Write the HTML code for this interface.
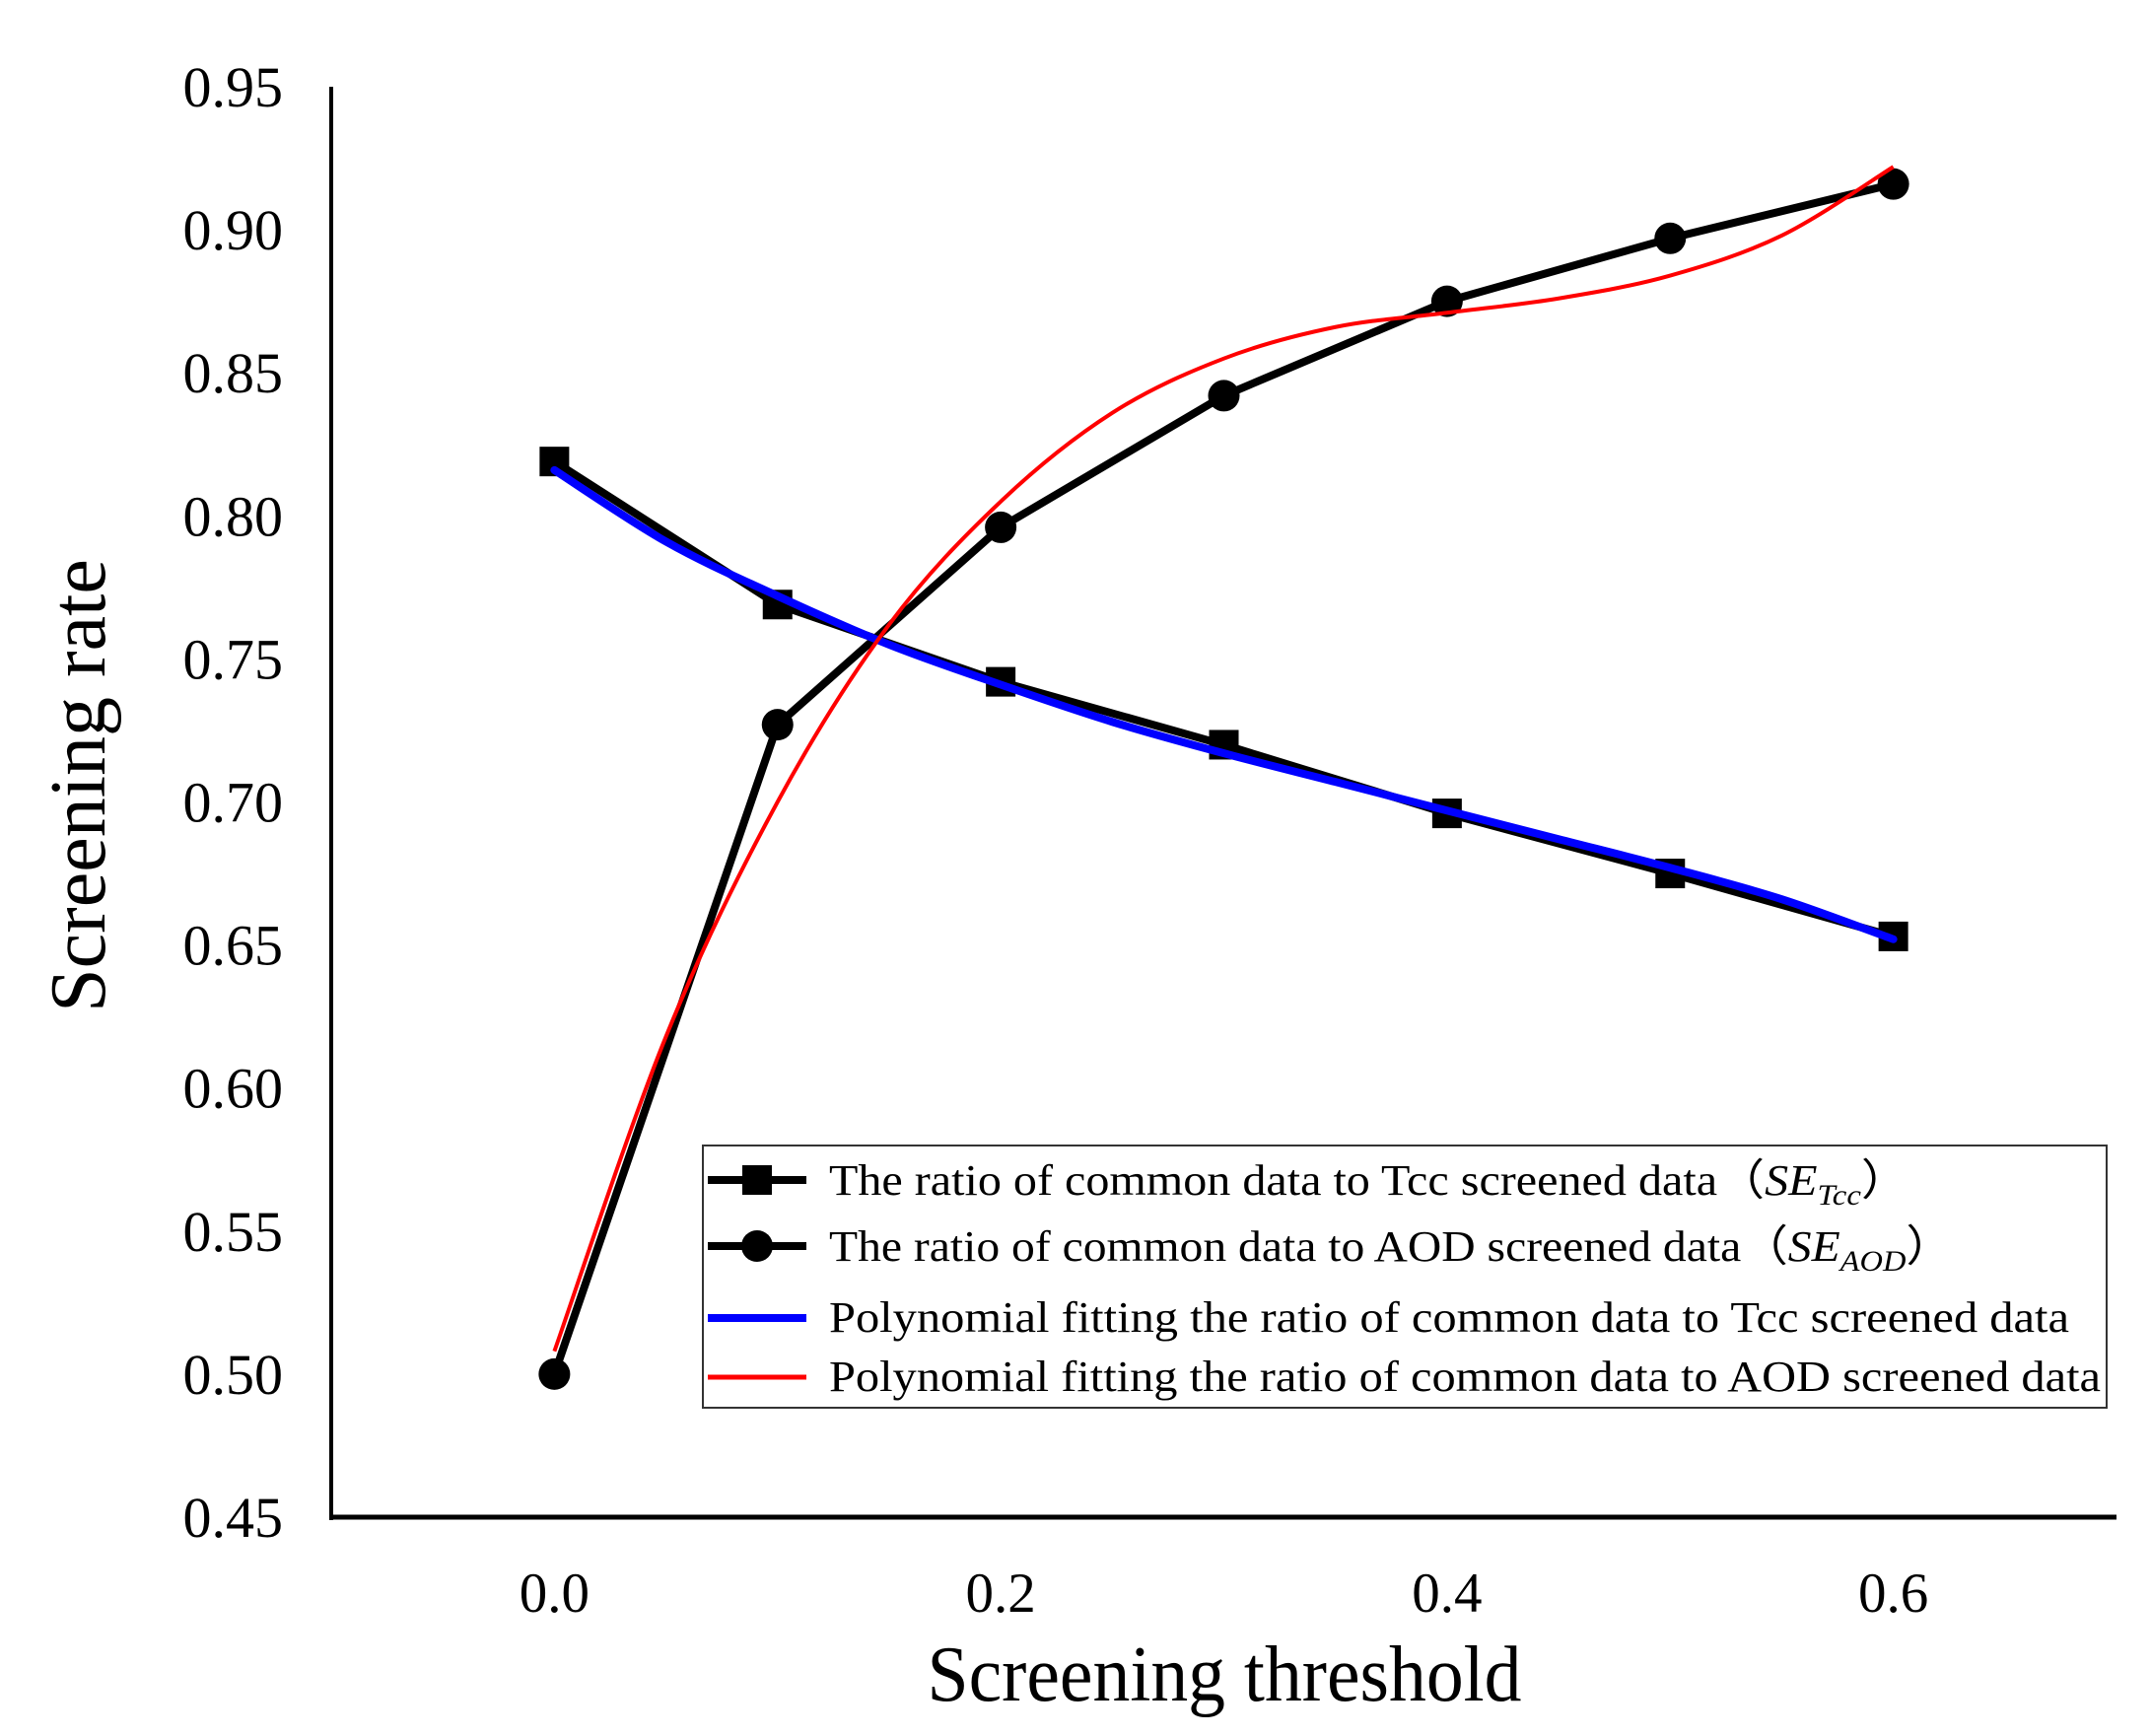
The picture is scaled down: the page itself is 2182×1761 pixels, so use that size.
<!DOCTYPE html>
<html><head><meta charset="utf-8"><style>
html,body{margin:0;padding:0;background:#fff}
svg{display:block;font-family:"Liberation Serif",serif}
</style></head><body>
<svg id="chart" width="2182" height="1761" viewBox="0 0 2182 1761" xmlns="http://www.w3.org/2000/svg">
<g id="axes"></g>
<g id="series"></g>
<g id="legend"></g>
</svg>
<script>
const thresholds = [0, 0.1, 0.2, 0.3, 0.4, 0.5, 0.6];
const tccRatio = [0.819, 0.769, 0.742, 0.720, 0.696, 0.675, 0.653];
const aodRatio = [0.500, 0.727, 0.796, 0.842, 0.875, 0.897, 0.916];
const fitX = [0, 0.05, 0.1, 0.15, 0.2, 0.25, 0.3, 0.35, 0.4, 0.45, 0.5, 0.55, 0.6];
const tccFit = [0.816, 0.791, 0.772, 0.755, 0.741, 0.728, 0.717, 0.707, 0.697, 0.687, 0.677, 0.666, 0.652];
const aodFit = [0.508, 0.618, 0.700, 0.762, 0.805, 0.836, 0.855, 0.866, 0.871, 0.876, 0.884, 0.898, 0.922];
const yTicks = ["0.45","0.50","0.55","0.60","0.65","0.70","0.75","0.80","0.85","0.90","0.95"];
const xTicks = ["0.0","0.2","0.4","0.6"];

const NS = "http://www.w3.org/2000/svg";
const X0 = 336, X1 = 2147, Y0 = 1539, Y1 = 88;
const xMin = -0.1, xMax = 0.7, yMin = 0.45, yMax = 0.95;
const sx = v => X0 + (v - xMin) / (xMax - xMin) * (X1 - X0);
const sy = v => Y0 - (v - yMin) / (yMax - yMin) * (Y0 - Y1);
function mk(tag, attrs, parent){ const e=document.createElementNS(NS,tag); for(const k in attrs) e.setAttribute(k,attrs[k]); parent.appendChild(e); return e; }

const axes = document.getElementById('axes');
let yl = mk('line',{x1:X0,y1:Y1,x2:X0,y2:Y0+3,stroke:'#000','stroke-width':4},axes);


let xl = mk('line',{x1:X0-2,y1:Y0,x2:X1,y2:Y0,stroke:'#000','stroke-width':5},axes);


yTicks.forEach(t=>{
  const e=mk('text',{x:287,y:sy(parseFloat(t))+20,'text-anchor':'end','font-size':58},axes);
  e.textContent=t;
  
  
});
xTicks.forEach(t=>{
  const e=mk('text',{x:sx(parseFloat(t)),y:1635,'text-anchor':'middle','font-size':57},axes);
  e.textContent=t;
  
  
});
let xt=mk('text',{x:1242,y:1725,'text-anchor':'middle','font-size':80,textLength:603,lengthAdjust:'spacingAndGlyphs'},axes);
xt.textContent='Screening threshold';


let yt=mk('text',{x:0,y:0,'text-anchor':'middle','font-size':80,transform:'translate(106,797) rotate(-90)'},axes);
yt.textContent='Screening rate';



const series = document.getElementById('series');
function poly(xs, ys){ return xs.map((x,i)=>sx(x).toFixed(1)+','+sy(ys[i]).toFixed(1)).join(' '); }
function smooth(xs, ys){
  const p=xs.map((x,i)=>[sx(x),sy(ys[i])]);
  let d='M'+p[0][0]+','+p[0][1];
  for(let i=0;i<p.length-1;i++){
    const a=p[Math.max(0,i-1)],b=p[i],c=p[i+1],e=p[Math.min(p.length-1,i+2)];
    d+=` C${b[0]+(c[0]-a[0])/6},${b[1]+(c[1]-a[1])/6} ${c[0]-(e[0]-b[0])/6},${c[1]-(e[1]-b[1])/6} ${c[0]},${c[1]}`;
  }
  return d;
}
let l1=mk('polyline',{points:poly(thresholds,tccRatio),fill:'none',stroke:'#000','stroke-width':8,'stroke-linejoin':'round'},series);


thresholds.forEach((x,i)=>{
  const r=mk('rect',{x:sx(x)-15,y:sy(tccRatio[i])-15,width:30,height:30,fill:'#000'},series);
  
  
});
let l2=mk('polyline',{points:poly(thresholds,aodRatio),fill:'none',stroke:'#000','stroke-width':8,'stroke-linejoin':'round'},series);


thresholds.forEach((x,i)=>{
  const c=mk('circle',{cx:sx(x),cy:sy(aodRatio[i]),r:16,fill:'#000'},series);
  
  
});
let f1=mk('path',{d:smooth(fitX,tccFit),fill:'none',stroke:'#0000ff','stroke-width':8,'stroke-linecap':'round'},series);


let f2=mk('path',{d:smooth(fitX,aodFit),fill:'none',stroke:'#ff0000','stroke-width':4},series);



const lg=document.getElementById('legend');
let box=mk('rect',{x:713,y:1162,width:1424,height:266,fill:'#fff',stroke:'#333','stroke-width':2},lg);


const rows=[1197,1264,1337,1397];
let e;
e=mk('line',{x1:718,y1:rows[0],x2:818,y2:rows[0],stroke:'#000','stroke-width':8},lg);


e=mk('rect',{x:753,y:rows[0]-15,width:30,height:30,fill:'#000'},lg);


e=mk('line',{x1:718,y1:rows[1],x2:818,y2:rows[1],stroke:'#000','stroke-width':8},lg);


e=mk('circle',{cx:768,cy:rows[1],r:16,fill:'#000'},lg);


e=mk('line',{x1:718,y1:rows[2],x2:818,y2:rows[2],stroke:'#0000ff','stroke-width':8},lg);


e=mk('line',{x1:718,y1:rows[3],x2:818,y2:rows[3],stroke:'#ff0000','stroke-width':5},lg);


</script>
<svg style="position:absolute;left:0;top:0" width="2182" height="1761">
<g font-family="Liberation Serif, serif" font-size="44">
<text x="841" y="1212" textLength="1095" lengthAdjust="spacingAndGlyphs">The ratio of common data to Tcc screened data（<tspan font-style="italic">SE</tspan><tspan font-style="italic" font-size="30" dy="10">Tcc</tspan><tspan dy="-10">）</tspan></text>
<text x="841" y="1279" textLength="1140" lengthAdjust="spacingAndGlyphs">The ratio of common data to AOD screened data（<tspan font-style="italic">SE</tspan><tspan font-style="italic" font-size="30" dy="10">AOD</tspan><tspan dy="-10">）</tspan></text>
<text x="841" y="1351" textLength="1258" lengthAdjust="spacingAndGlyphs">Polynomial fitting the ratio of common data to Tcc screened data</text>
<text x="841" y="1411" textLength="1290" lengthAdjust="spacingAndGlyphs">Polynomial fitting the ratio of common data to AOD screened data</text>
</g>
</svg>
</body></html>
